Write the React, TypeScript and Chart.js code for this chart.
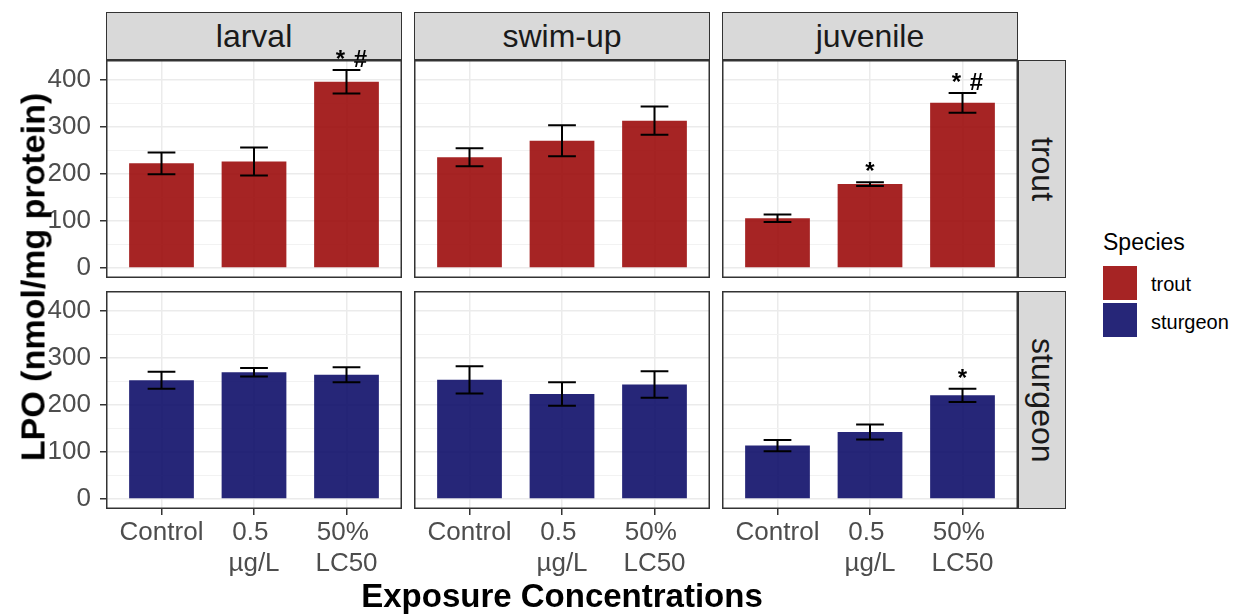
import React, { useEffect, useRef } from "react";
import { Chart, registerables } from "chart.js";

Chart.register(...registerables);

// ---------- data ----------
const stages = ["larval", "swim-up", "juvenile"];
const speciesNames = ["trout", "sturgeon"];
const concentrations = ["Control", "0.5 µg/L", "50% LC50"];
const xTickLabels = [["Control"], ["0.5 ", "µg/L"], ["50% ", "LC50"]];
const yMajorTicks = [0, 100, 200, 300, 400];
const yMinorTicks = [50, 150, 250, 350];

const troutLarvalMean = [223, 227, 397];
const troutLarvalSE = [23, 30, 25];
const troutLarvalSig = ["", "", "* #"];

const troutSwimUpMean = [236, 271, 314];
const troutSwimUpSE = [19, 33, 30];
const troutSwimUpSig = ["", "", ""];

const troutJuvenileMean = [106, 179, 352];
const troutJuvenileSE = [8, 4, 21];
const troutJuvenileSig = ["", "*", "* #"];

const sturgeonLarvalMean = [253, 270, 265];
const sturgeonLarvalSE = [18, 9, 16];
const sturgeonLarvalSig = ["", "", ""];

const sturgeonSwimUpMean = [254, 224, 244];
const sturgeonSwimUpSE = [29, 25, 28];
const sturgeonSwimUpSig = ["", "", ""];

const sturgeonJuvenileMean = [114, 143, 221];
const sturgeonJuvenileSE = [12, 16, 14];
const sturgeonJuvenileSig = ["", "", "*"];

const speciesColors = ["rgba(156,12,12,0.9)", "rgba(14,14,105,0.9)"];

// ---------- layout / style ----------
const FONT = '"Liberation Sans", Arial, Helvetica, sans-serif';
const colLefts = [106, 414, 722];
const rowTops = [60, 291];
const PW = 296;
const PH = 218;
const TOP_PAD = 30;
const Y_AXIS_W = 66;
const X_AXIS_H = 80;
const TICK_FONT = 26;

const panelData = [
  [
    { mean: troutLarvalMean, se: troutLarvalSE, sig: troutLarvalSig },
    { mean: troutSwimUpMean, se: troutSwimUpSE, sig: troutSwimUpSig },
    { mean: troutJuvenileMean, se: troutJuvenileSE, sig: troutJuvenileSig },
  ],
  [
    { mean: sturgeonLarvalMean, se: sturgeonLarvalSE, sig: sturgeonLarvalSig },
    { mean: sturgeonSwimUpMean, se: sturgeonSwimUpSE, sig: sturgeonSwimUpSig },
    { mean: sturgeonJuvenileMean, se: sturgeonJuvenileSE, sig: sturgeonJuvenileSig },
  ],
];

// shared y range (ggplot-like 5% expansion of [0, max])
const allTops: number[] = [];
panelData.forEach((row) =>
  row.forEach((p) => p.mean.forEach((m, i) => allTops.push(m + p.se[i])))
);
const dataMax = Math.max(...allTops);
const yMin = -0.05 * dataMax;
const yMax = dataMax * 1.05;
const yGridValues = [...yMajorTicks, ...yMinorTicks].sort((a, b) => a - b);

const errorBarPlugin = {
  id: "errorBars",
  afterDatasetsDraw(chart: any) {
    const ds = chart.data.datasets[0];
    const xs = chart.scales.x;
    const ys = chart.scales.y;
    const ctx = chart.ctx;
    ctx.save();
    ctx.strokeStyle = "#000000";
    ctx.lineWidth = 2;
    ds.data.forEach((pt: any, i: number) => {
      const se = ds.errors[i];
      const x = xs.getPixelForValue(pt.x);
      const xl = xs.getPixelForValue(pt.x - 0.15);
      const xr = xs.getPixelForValue(pt.x + 0.15);
      const yt = ys.getPixelForValue(pt.y + se);
      const yb = ys.getPixelForValue(pt.y - se);
      ctx.beginPath();
      ctx.moveTo(x, yt);
      ctx.lineTo(x, yb);
      ctx.moveTo(xl, yt);
      ctx.lineTo(xr, yt);
      ctx.moveTo(xl, yb);
      ctx.lineTo(xr, yb);
      ctx.stroke();
      const lab: string = ds.sig[i];
      if (lab) {
        ctx.fillStyle = "#000000";
        ctx.font = `bold 24px ${FONT}`;
        ctx.textAlign = "center";
        ctx.textBaseline = "alphabetic";
        const tokens = lab.split(" ");
        const gap = 20;
        const start = x + (tokens.length > 1 ? 4 : 0) - ((tokens.length - 1) * gap) / 2;
        tokens.forEach((t, k) => ctx.fillText(t, start + k * gap, yt - 3));
      }
    });
    ctx.restore();
  },
};

const panelBorderPlugin = {
  id: "panelBorder",
  afterDraw(chart: any) {
    const a = chart.chartArea;
    const ctx = chart.ctx;
    ctx.save();
    ctx.strokeStyle = "#333333";
    ctx.lineWidth = 1.5;
    ctx.strokeRect(a.left + 0.75, a.top + 0.75, a.right - a.left - 1.5, a.bottom - a.top - 1.5);
    ctx.restore();
  },
};

function Panel({ row, col }: { row: number; col: number }) {
  const ref = useRef<HTMLCanvasElement>(null);
  const showY = col === 0;
  const showX = row === 1;
  const yW = showY ? Y_AXIS_W : 0;
  const xH = showX ? X_AXIS_H : 0;
  const w = PW + yW;
  const h = PH + xH + TOP_PAD;
  const left = colLefts[col] - yW;
  const top = rowTops[row] - TOP_PAD;

  useEffect(() => {
    const p = panelData[row][col];
    const chart = new Chart(ref.current as HTMLCanvasElement, {
      type: "bar",
      data: {
        datasets: [
          {
            label: speciesNames[row],
            data: p.mean.map((v, i) => ({ x: i + 1, y: v })),
            backgroundColor: speciesColors[row],
            borderWidth: 0,
            barPercentage: 0.7,
            categoryPercentage: 1,
            errors: p.se,
            sig: p.sig,
          } as any,
        ],
      },
      options: {
        responsive: false,
        animation: false,
        devicePixelRatio: 1,
        layout: { padding: { top: TOP_PAD, left: 0, right: 0, bottom: 0 } },
        plugins: {
          legend: { display: false },
          tooltip: { enabled: false },
        },
        scales: {
          x: {
            type: "linear",
            min: 0.4,
            max: 3.6,
            offset: false,
            afterBuildTicks: (s: any) => {
              s.ticks = concentrations.map((_, i) => ({ value: i + 1 }));
            },
            afterFit: (s: any) => {
              s.height = xH;
              s.paddingLeft = 0;
              s.paddingRight = 0;
            },
            ticks: {
              display: showX,
              autoSkip: false,
              maxRotation: 0,
              minRotation: 0,
              padding: 2,
              color: "#4D4D4D",
              font: { family: FONT, size: TICK_FONT },
              callback: (v: any) => xTickLabels[Math.round(v) - 1] as any,
            },
            grid: {
              offset: false,
              color: "#EBEBEB",
              lineWidth: 1.5,
              drawTicks: showX,
              tickLength: 6,
              tickColor: "#333333",
              tickWidth: 1.5,
            },
            border: { display: false },
          } as any,
          y: {
            type: "linear",
            min: yMin,
            max: yMax,
            afterBuildTicks: (s: any) => {
              s.ticks = yGridValues.map((v) => ({ value: v }));
            },
            afterFit: (s: any) => {
              s.width = yW;
              s.paddingTop = 0;
              s.paddingBottom = 0;
            },
            ticks: {
              display: showY,
              autoSkip: false,
              padding: 9,
              color: "#4D4D4D",
              font: { family: FONT, size: TICK_FONT },
              callback: (v: any) => (yMajorTicks.includes(v) ? String(v) : ""),
            },
            grid: {
              color: (c: any) => (yMajorTicks.includes(c.tick?.value) ? "#EBEBEB" : "#F2F2F2"),
              lineWidth: (c: any) => (yMajorTicks.includes(c.tick?.value) ? 1.5 : 1),
              drawTicks: showY,
              tickLength: 6,
              tickColor: (c: any) =>
                yMajorTicks.includes(c.tick?.value) ? "#333333" : "rgba(0,0,0,0)",
              tickWidth: 1.5,
            },
            border: { display: false },
          } as any,
        },
      },
      plugins: [errorBarPlugin, panelBorderPlugin],
    });
    return () => chart.destroy();
  }, []);

  return (
    <canvas
      ref={ref}
      width={w}
      height={h}
      style={{ position: "absolute", left, top, width: w, height: h }}
    />
  );
}

export default function App() {
  const stripBase: React.CSSProperties = {
    position: "absolute",
    boxSizing: "border-box",
    background: "#D9D9D9",
    border: "1.5px solid #333333",
    color: "#1A1A1A",
    fontFamily: FONT,
    fontSize: 32,
    display: "flex",
    alignItems: "center",
    justifyContent: "center",
  };
  return (
    <div
      style={{
        position: "fixed",
        left: 0,
        top: 0,
        width: 1233,
        height: 614,
        background: "#FFFFFF",
        fontFamily: FONT,
        overflow: "hidden",
      }}
    >
      {stages.map((s, c) => (
        <div key={s} style={{ ...stripBase, left: colLefts[c], top: 12, width: PW, height: 48 }}>
          {s}
        </div>
      ))}
      {speciesNames.map((s, r) => (
        <div key={s} style={{ ...stripBase, left: 1018, top: rowTops[r], width: 48, height: PH }}>
          <span style={{ writingMode: "vertical-rl" }}>{s}</span>
        </div>
      ))}
      {[0, 1].map((r) =>
        [0, 1, 2].map((c) => <Panel key={`${r}-${c}`} row={r} col={c} />)
      )}
      <div
        style={{
          position: "absolute",
          left: 33,
          top: 277,
          transform: "translate(-50%, -50%) rotate(-90deg)",
          whiteSpace: "nowrap",
          fontWeight: "bold",
          fontSize: 34,
          color: "#000000",
        }}
      >
        LPO (nmol/mg protein)
      </div>
      <div
        style={{
          position: "absolute",
          left: 562,
          top: 596,
          transform: "translate(-50%, -50%)",
          whiteSpace: "nowrap",
          fontWeight: "bold",
          fontSize: 33,
          color: "#000000",
        }}
      >
        Exposure Concentrations
      </div>
      <div
        style={{
          position: "absolute",
          left: 1103,
          top: 242,
          transform: "translateY(-50%)",
          fontSize: 23,
          color: "#000000",
          whiteSpace: "nowrap",
        }}
      >
        Species
      </div>
      {speciesNames.map((s, i) => (
        <React.Fragment key={s}>
          <div
            style={{
              position: "absolute",
              left: 1103,
              top: 266 + i * 37,
              width: 34,
              height: 34,
              background: speciesColors[i],
            }}
          />
          <div
            style={{
              position: "absolute",
              left: 1151,
              top: 284 + i * 38,
              transform: "translateY(-50%)",
              fontSize: 20,
              color: "#000000",
              whiteSpace: "nowrap",
            }}
          >
            {s}
          </div>
        </React.Fragment>
      ))}
    </div>
  );
}
